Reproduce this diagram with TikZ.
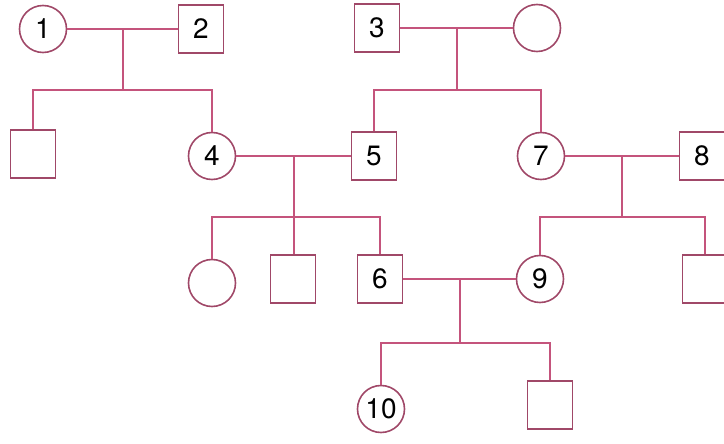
\documentclass[tikz,border=0pt]{standalone}
\usepackage{fontspec}
\setmainfont{TeX Gyre Heros}
\usetikzlibrary{shapes.geometric, positioning, calc}
\definecolor{pedline}{RGB}{196, 84, 124}
\definecolor{pedshape}{RGB}{160, 72, 104}

\begin{document}
\begin{tikzpicture}[x=0.5pt, y=-0.5pt,
  female/.style={circle, draw=pedshape, line width=0.8pt, minimum size=23.5pt, inner sep=0pt, font=\fontsize{14}{16}\selectfont},
  male/.style={rectangle, draw=pedshape, line width=0.8pt, minimum width=22.5pt, minimum height=24pt, inner sep=0pt, font=\fontsize{14}{16}\selectfont},
  kin/.style={draw=pedline, line width=1pt}]
\useasboundingbox (0,0) rectangle (724,444);

% Generation I
\node[female] (p1) at (43,29) {1};
\node[male] (p2) at (201,29) {2};
\node[male] (p3) at (377,28) {3};
\node[female] (p3w) at (537,28) {};

% Generation II
\node[male] (c1) at (33,154) {};
\node[female] (p4) at (212,156) {4};
\node[male] (p5) at (374,156) {5};
\node[female] (p7) at (541,156) {7};
\node[male] (p8) at (702,156) {8};

% Generation III
\node[female] (c45a) at (212,283) {};
\node[male] (c45b) at (293,279) {};
\node[male] (p6) at (380,279) {6};
\node[female] (p9) at (540,279) {9};
\node[male] (c78) at (705,279) {};

% Generation IV
\node[female] (p10) at (381,409) {10};
\node[male] (c69) at (550,405) {};

% Couples
\draw[kin] (p1) -- coordinate (m12) (p2);
\draw[kin] (p3) -- coordinate (m3) (p3w);
\draw[kin] (p4) -- coordinate (m45) (p5);
\draw[kin] (p7) -- coordinate (m78) (p8);
\draw[kin] (p6) -- coordinate (m69) (p9);

% Sibling lines
\path (m12) ++(0,61) coordinate (s12);
\path (m3) ++(0,62) coordinate (s3);
\path (m45) ++(0,61) coordinate (s45);
\path (m78) ++(0,61) coordinate (s78);
\path (m69) ++(0,64) coordinate (s69);

\draw[kin] (m12) -- (s12);
\draw[kin] (c1.north) |- (s12) -| (p4.north);
\draw[kin] (m3) -- (s3);
\draw[kin] (p5.north) |- (s3) -| (p7.north);
\draw[kin] (m45) -- (s45);
\draw[kin] (c45a.north) |- (s45) -| (p6.north);
\draw[kin] (s45) -- (s45 |- c45b.north);
\draw[kin] (m78) -- (s78);
\draw[kin] (p9.north) |- (s78) -| (c78.north);
\draw[kin] (m69) -- (s69);
\draw[kin] (p10.north) |- (s69) -| (c69.north);
\end{tikzpicture}
\end{document}
